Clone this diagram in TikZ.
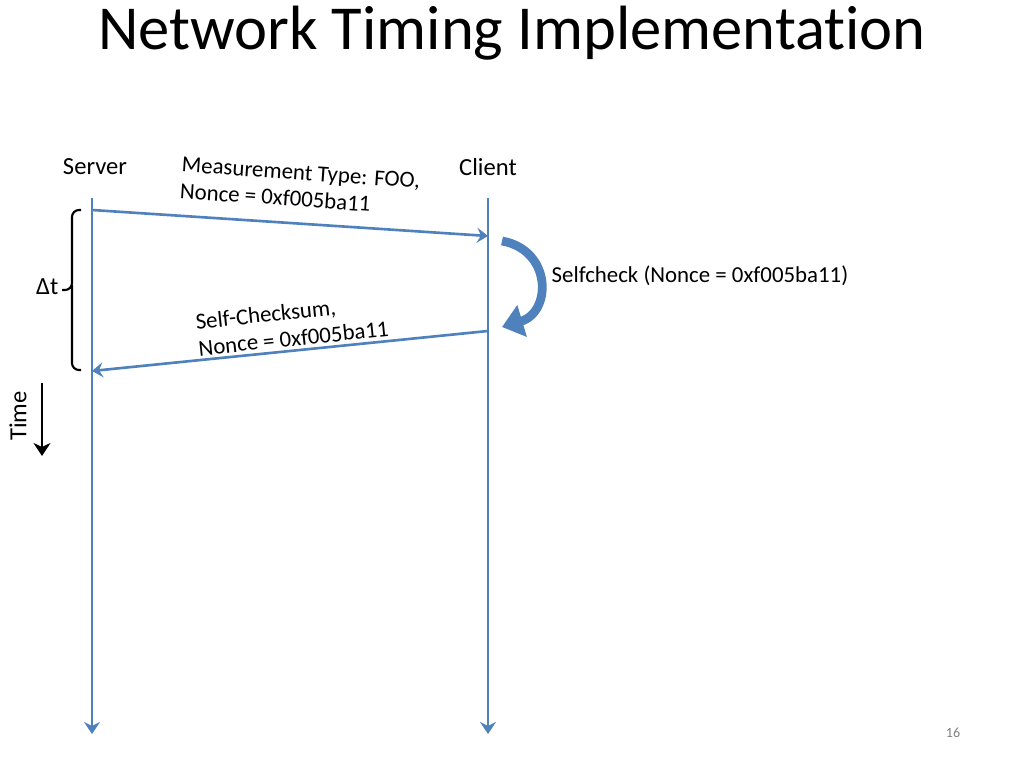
\documentclass[tikz,border=0pt]{standalone}
\usepackage{fontspec}
\setmainfont{Carlito}[Ligatures=NoCommon]
\usetikzlibrary{arrows.meta}
\definecolor{msgblue}{RGB}{79,129,189}
\newcommand{\lblfont}{\fontsize{6.5}{7.6}\selectfont}

\begin{document}
\begin{tikzpicture}[x=0.1mm,y=-0.1mm,
    lifeline/.style={msgblue,line width=0.75pt,-{Stealth[length=1.2mm,width=1.6mm,inset=0.4mm]}},
    msg/.style={msgblue,line width=0.75pt,-{Stealth[length=1.1mm,width=1.5mm,inset=0.4mm]}},
    lbl/.style={font=\lblfont,inner sep=0pt}]
  \useasboundingbox (0,0) rectangle (1024,768);
  % title
  \node[font=\fontsize{17.8}{20}\selectfont,inner sep=0pt] (title) at (512,33) {Network Timing Implementation};
  % lifelines
  \node[lbl,font=\fontsize{7}{8}\selectfont] (server) at (95,167) {Server};
  \node[lbl,font=\fontsize{7}{8}\selectfont] (client) at (488,167) {Client};
  \coordinate (s0) at (92,198);  \coordinate (s1) at (92,734);
  \coordinate (c0) at (488,198); \coordinate (c1) at (488,734);
  \draw[lifeline] (s0) -- (s1);
  \draw[lifeline] (c0) -- (c1);
  % messages
  \coordinate (m1a) at (92,210);  \coordinate (m1b) at (488,236);
  \coordinate (m2a) at (488,331); \coordinate (m2b) at (92,371);
  \draw[msg] (m1a) -- (m1b);
  \draw[msg] (m2a) -- (m2b);
  \node[lbl,align=left,rotate=-4] (req) at (300,186) {Measurement Type: FOO,\\Nonce = 0xf005ba11};
  \node[lbl,align=left,rotate=6] (resp) at (292,325) {Self-Checksum,\\Nonce = 0xf005ba11};
  % selfcheck
  \coordinate (k0) at (502,241); \coordinate (k1) at (502,327);
  \draw[msgblue,line width=2.5pt,-{Triangle[length=2.1mm,width=3.2mm]}]
    (k0) .. controls (552,250) and (552,312) .. (k1);
  \node[lbl,anchor=west] (check) at (551,276) {Selfcheck (Nonce = 0xf005ba11)};
  % delta t brace
  \draw[line width=0.6pt,rounded corners=2pt] (81,210) -- (72,210) -- (72,290) -- (62,290);
  \draw[line width=0.6pt,rounded corners=2pt] (72,285) -- (72,370) -- (81,370);
  \node[lbl,anchor=east,font=\fontsize{7}{8}\selectfont] (dt) at (59,287) {Δt};
  % time
  \coordinate (t0) at (42,383); \coordinate (t1) at (42,456);
  \draw[line width=0.8pt,-{Stealth[length=1.3mm,width=1.7mm,inset=0.4mm]}] (t0) -- (t1);
  \node[lbl,rotate=90,font=\fontsize{7}{8}\selectfont] (time) at (18,416) {Time};
  % page number
  \node[font=\fontsize{4}{5}\selectfont,text=gray,inner sep=0pt] (page) at (953,733) {16};
\end{tikzpicture}
\end{document}
